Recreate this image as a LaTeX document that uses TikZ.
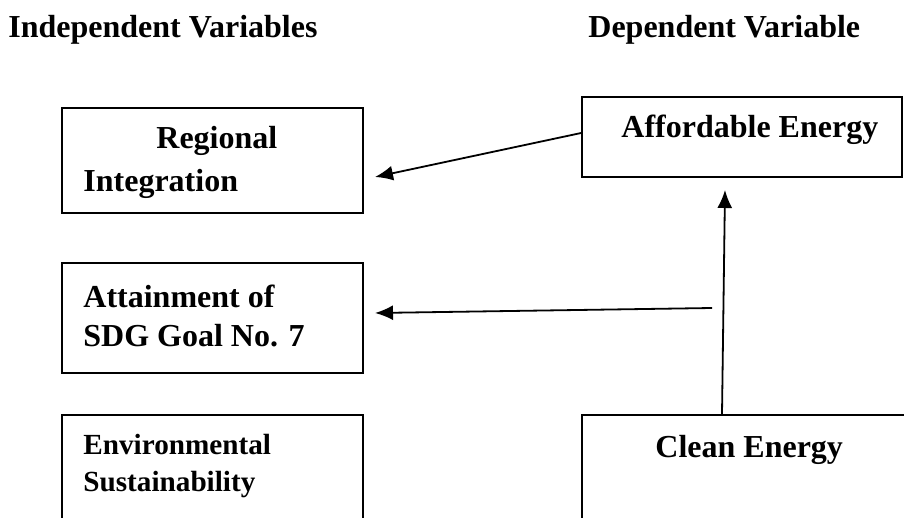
\documentclass[tikz,border=0pt]{standalone}
\usepackage{fontspec}
\setmainfont{Liberation Serif}
\usetikzlibrary{arrows.meta}
\begin{document}
\begin{tikzpicture}[x=0.5pt,y=-0.5pt,
  box/.style={draw, line width=0.9pt, inner sep=0pt},
  lbl/.style={anchor=base west, inner sep=0pt, font=\fontsize{16}{19}\selectfont\bfseries},
  lblsmall/.style={anchor=base west, inner sep=0pt, font=\fontsize{14.6}{17}\selectfont\bfseries},
  arr/.style={line width=0.9pt, -{Latex[length=9pt,width=7.5pt]}}]
\useasboundingbox (0,0) rectangle (904,518);
\clip (0,0) rectangle (904,518);
\fill[white] (0,0) rectangle (904,518);
% headings
\node[lbl] (hind) at (8,38) {Independent Variables};
\node[lbl] (hdep) at (588,38) {Dependent Variable};
% boxes
\node[box, minimum width=150.5pt, minimum height=52.5pt] (reg) at (212.5,160.5) {};
\node[box, minimum width=150.5pt, minimum height=55pt] (att) at (212.5,318) {};
\node[box, minimum width=150.5pt, minimum height=72.5pt] (env) at (212.5,487.5) {};
\node[box, minimum width=160pt, minimum height=40pt] (aff) at (742,137) {};
\node[box, minimum width=189pt, minimum height=72.5pt] (cln) at (771,487.5) {};
% texts
\node[lbl] (t-reg1) at (156,149) {Regional};
\node[lbl] (t-reg2) at (83,192) {Integration};
\node[lbl] (t-att1) at (83,307) {Attainment of};
\node[lbl] (t-att2) at (83,346) {SDG Goal No. 7};
\node[lblsmall] (t-env1) at (83,454) {Environmental};
\node[lblsmall] (t-env2) at (83,491) {Sustainability};
\node[lbl] (t-aff) at (621,138) {Affordable Energy};
\node[lbl] (t-cln) at (655,457) {Clean Energy};
% connector ends
\coordinate (e1) at (375,177);
\coordinate (s2) at (712,308);
\coordinate (e2) at (375,313);
\coordinate (e3) at (725,190);
% connectors
\draw[arr] ([yshift=2pt]aff.west) -- (e1);
\draw[arr] (s2) -- (e2);
\draw[arr] ([xshift=-24.5pt]cln.north) -- (e3);
\end{tikzpicture}
\end{document}
